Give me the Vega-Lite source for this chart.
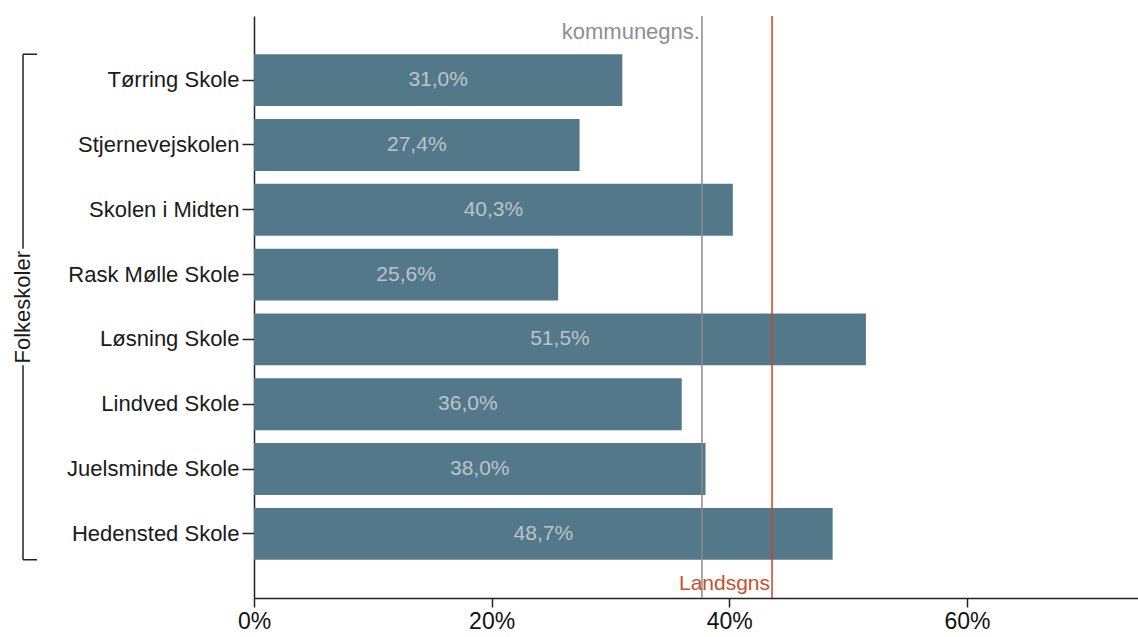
{
  "$schema": "https://vega.github.io/schema/vega-lite/v6.json",
  "padding": {"left": 12, "top": 15, "right": 0, "bottom": 0},
  "config": {
    "view": {"stroke": null},
    "font": "Liberation Sans",
    "locale": {"number": {"decimal": ",", "thousands": ".", "grouping": [3], "currency": ["", " kr."]}}
  },
  "datasets": {
    "schools": [
      {"school": "Tørring Skole", "value": 0.310},
      {"school": "Stjernevejskolen", "value": 0.274},
      {"school": "Skolen i Midten", "value": 0.403},
      {"school": "Rask Mølle Skole", "value": 0.256},
      {"school": "Løsning Skole", "value": 0.515},
      {"school": "Lindved Skole", "value": 0.360},
      {"school": "Juelsminde Skole", "value": 0.380},
      {"school": "Hedensted Skole", "value": 0.487}
    ],
    "refs": [
      {"label": "kommunegns.", "value": 0.377},
      {"label": "Landsgns", "value": 0.436}
    ]
  },
  "spacing": 217,
  "bounds": "flush",
  "resolve": {"scale": {"y": "shared"}},
  "hconcat": [
    {
      "width": 14,
      "height": 582,
      "data": {"values": [{}]},
      "layer": [
        {
          "mark": {"type": "rule", "color": "#222222", "strokeWidth": 1.5},
          "encoding": {
            "x": {"datum": 0, "type": "quantitative", "scale": {"domain": [0, 1], "nice": false}, "axis": null},
            "y": {"datum": "Tørring Skole", "type": "nominal", "bandPosition": 0, "axis": null,
                  "scale": {"domain": ["Tørring Skole", "Stjernevejskolen", "Skolen i Midten", "Rask Mølle Skole", "Løsning Skole", "Lindved Skole", "Juelsminde Skole", "Hedensted Skole"], "paddingInner": 0.2, "paddingOuter": 0.59}},
            "y2": {"datum": "Rask Mølle Skole", "bandPosition": 0}
          }
        },
        {
          "mark": {"type": "rule", "color": "#222222", "strokeWidth": 1.5},
          "encoding": {
            "x": {"datum": 0, "type": "quantitative", "axis": null},
            "y": {"datum": "Løsning Skole", "type": "nominal", "bandPosition": 1, "axis": null},
            "y2": {"datum": "Hedensted Skole", "bandPosition": 1}
          }
        },
        {
          "mark": {"type": "rule", "color": "#222222", "strokeWidth": 1.5},
          "encoding": {
            "x": {"datum": 0, "type": "quantitative", "axis": null},
            "x2": {"datum": 1},
            "y": {"datum": "Tørring Skole", "type": "nominal", "bandPosition": 0, "axis": null}
          }
        },
        {
          "mark": {"type": "rule", "color": "#222222", "strokeWidth": 1.5},
          "encoding": {
            "x": {"datum": 0, "type": "quantitative", "axis": null},
            "x2": {"datum": 1},
            "y": {"datum": "Hedensted Skole", "type": "nominal", "bandPosition": 1, "axis": null}
          }
        },
        {
          "mark": {"type": "text", "text": "Folkeskoler", "angle": 270, "align": "center", "baseline": "middle", "fontSize": 22, "color": "#1a1a1a"},
          "encoding": {
            "x": {"datum": 0, "type": "quantitative", "axis": null},
            "y": {"datum": "Rask Mølle Skole", "type": "nominal", "bandPosition": 1.13, "axis": null}
          }
        }
      ]
    },
    {
      "width": 884,
      "height": 582,
      "data": {"name": "schools"},
      "resolve": {"scale": {"x": "independent"}},
      "layer": [
        {
          "mark": {"type": "bar", "color": "#537889"},
          "encoding": {
            "y": {"field": "school", "type": "nominal",
                  "scale": {"domain": ["Tørring Skole", "Stjernevejskolen", "Skolen i Midten", "Rask Mølle Skole", "Løsning Skole", "Lindved Skole", "Juelsminde Skole", "Hedensted Skole"], "paddingInner": 0.2, "paddingOuter": 0.59},
                  "axis": {"title": null, "domainColor": "#222222", "domainWidth": 1.5, "tickColor": "#222222", "tickWidth": 1.5, "tickSize": 12, "labelFontSize": 22, "labelColor": "#1a1a1a", "labelPadding": 3, "labelLimit": 300}},
            "x": {"field": "value", "type": "quantitative",
                  "scale": {"domain": [0, 0.744], "nice": false},
                  "axis": {"title": null, "values": [0, 0.2, 0.4, 0.6], "format": ".0%", "grid": false, "labelFlush": false, "domainColor": "#222222", "domainWidth": 1.5, "tickColor": "#222222", "tickWidth": 1.5, "tickSize": 9, "labelFontSize": 23, "labelColor": "#111111", "labelPadding": 3}}
          }
        },
        {
          "mark": {"type": "text", "color": "#bcc4ca", "fontSize": 21, "align": "center", "baseline": "middle"},
          "encoding": {
            "y": {"field": "school", "type": "nominal"},
            "x": {"field": "value", "type": "quantitative", "scale": {"domain": [0, 1.488], "nice": false}, "axis": null},
            "text": {"field": "value", "type": "quantitative", "format": ".1%"}
          }
        },
        {
          "data": {"name": "refs"},
          "mark": {"type": "rule", "strokeWidth": 1.5},
          "encoding": {
            "x": {"field": "value", "type": "quantitative", "scale": {"domain": [0, 0.744], "nice": false}, "axis": null},
            "color": {"field": "label", "type": "nominal", "scale": {"domain": ["kommunegns.", "Landsgns"], "range": ["#8c8c8c", "#c8461e"]}, "legend": null}
          }
        },
        {
          "data": {"name": "refs"},
          "transform": [{"filter": "datum.label === 'kommunegns.'"}],
          "mark": {"type": "text", "align": "right", "baseline": "top", "dx": -2, "dy": 6, "fontSize": 22, "color": "#8a8f99"},
          "encoding": {
            "x": {"field": "value", "type": "quantitative", "scale": {"domain": [0, 0.744], "nice": false}, "axis": null},
            "y": {"value": 0},
            "text": {"field": "label", "type": "nominal"}
          }
        },
        {
          "data": {"name": "refs"},
          "transform": [{"filter": "datum.label === 'Landsgns'"}],
          "mark": {"type": "text", "align": "right", "baseline": "bottom", "dx": -2, "dy": -4, "fontSize": 21, "color": "#c8502d"},
          "encoding": {
            "x": {"field": "value", "type": "quantitative", "scale": {"domain": [0, 0.744], "nice": false}, "axis": null},
            "y": {"value": "height"},
            "text": {"field": "label", "type": "nominal"}
          }
        }
      ]
    }
  ]
}
